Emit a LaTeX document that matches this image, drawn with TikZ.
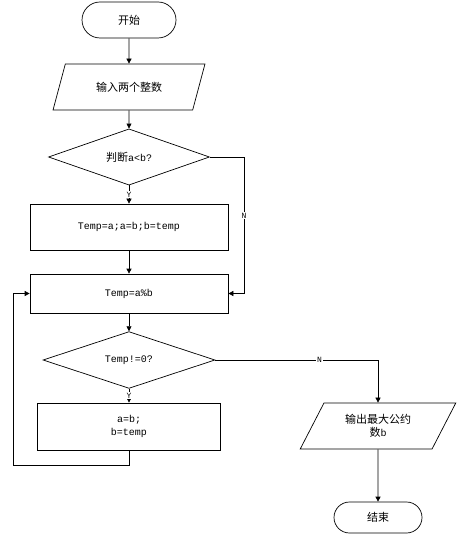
\documentclass[tikz,border=0pt]{standalone}
\usepackage{fontspec}
\setmainfont{Liberation Mono}
\newfontfamily\cjk{Noto Sans CJK SC}[Scale=1.1]
\usetikzlibrary{shapes.geometric,shapes.misc,arrows.meta}

\tikzset{
  term/.style={rounded rectangle,draw,minimum width=94pt,minimum height=36pt,inner sep=0pt},
  io/.style={trapezium,trapezium left angle=58,trapezium right angle=122,
    trapezium stretches=true,draw,minimum width=152pt,minimum height=46pt,inner sep=0pt,align=center},
  proc/.style={rectangle,draw,minimum width=198pt,minimum height=46pt,align=center},
  decide/.style={diamond,draw,inner sep=0pt},
  line/.style={draw,-{Triangle[length=5pt,width=5pt]}},
  lbl/.style={fill=white,inner sep=1pt,font=\fontsize{8}{9}\selectfont}
}

\begin{document}
\begin{tikzpicture}[x=1pt,y=-1pt,line width=0.7pt,font=\fontsize{10}{13}\selectfont]
\useasboundingbox (0,0) rectangle (456,534);

\node[term] (start) at (129,20) {\cjk 开始};
\node[io] (input) at (129,87) {\cjk 输入两个整数};
\node[decide,minimum width=161pt,minimum height=45pt] (cmp) at (129,157) {{\cjk 判断}a<b?};
\node[proc] (swap) at (129,227) {Temp=a;a=b;b=temp};
\node[proc,minimum height=39pt] (mod) at (129,293.5) {Temp=a\%b};
\node[decide,minimum width=172pt,minimum height=46pt] (test) at (129,360) {Temp!=0?};
\node[proc,minimum width=183pt,minimum height=47pt] (shift) at (129,426.5) {a=b;\\b=temp};
\node[io,minimum width=156pt] (output) at (378,426) {{\cjk 输出最大公约}\\{\cjk 数}b};
\node[term,minimum width=88pt,minimum height=31pt] (stop) at (378,517.5) {\cjk 结束};

\coordinate (nright) at (244,157);
\coordinate (loop) at (13,465);

\draw[line] (start) -- (input);
\draw[line] (input) -- (cmp);
\draw[line] (cmp) -- node[lbl] {Y} (swap);
\draw[line] (swap) -- (mod);
\draw[line] (cmp.east) -- (nright) -- node[lbl,pos=0.43] {N} (nright |- mod) -- (mod.east);
\draw[line] (mod) -- (test);
\draw[line] (test) -- node[lbl] {Y} (shift);
\draw[line] (shift.south) |- (loop) |- (mod.west);
\draw[line] (test.east) -| node[lbl,pos=0.32] {N} (output.north);
\draw[line] (output) -- (stop);

\end{tikzpicture}
\end{document}
